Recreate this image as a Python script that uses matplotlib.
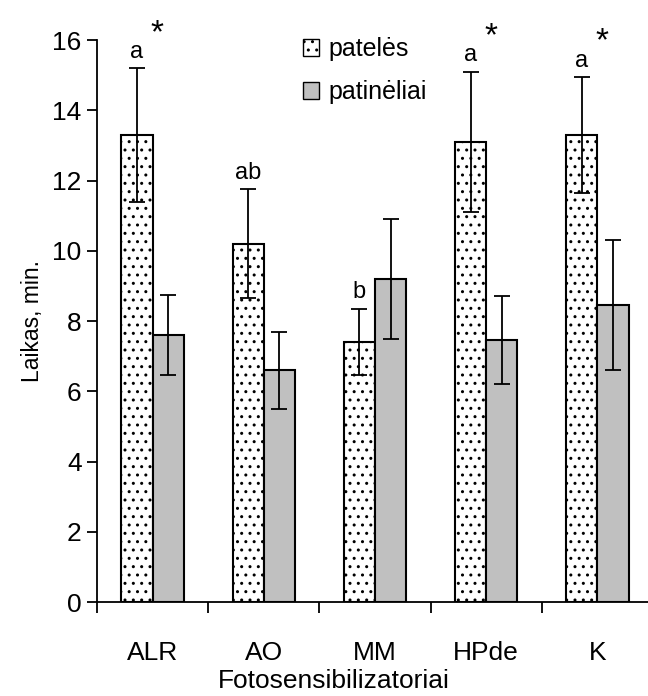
import numpy as np
import matplotlib.pyplot as plt
from matplotlib.patches import Patch

plt.rcParams['font.family'] = ['Liberation Sans', 'DejaVu Sans']
plt.rcParams['hatch.linewidth'] = 1.0

# data
groups = ["ALR", "AO", "MM", "HPde", "K"]
female = [13.3, 10.2, 7.4, 13.1, 13.3]
female_err = [1.9, 1.55, 0.95, 2.0, 1.65]
male = [7.6, 6.6, 9.2, 7.45, 8.45]
male_err = [1.15, 1.1, 1.7, 1.25, 1.85]
letters = ["a", "ab", "b", "a", "a"]
stars = [True, False, False, True, True]

fig = plt.figure(figsize=(6.48, 6.96), dpi=100)
ax = fig.add_axes([0.1497, 0.135, 0.858, 0.8075])

x = np.arange(len(groups)) + 0.5
w = 0.28

ax.bar(x - w / 2, female, w, color="white", edgecolor="black", hatch="..",
       linewidth=1.5, zorder=2)
ax.bar(x + w / 2, male, w, color="#c0c0c0", edgecolor="black",
       linewidth=1.5, zorder=2)
ax.errorbar(x - w / 2, female, yerr=female_err, fmt="none", ecolor="black",
            elinewidth=1.3, capsize=6, capthick=1.3, zorder=3)
ax.errorbar(x + w / 2, male, yerr=male_err, fmt="none", ecolor="black",
            elinewidth=1.3, capsize=6, capthick=1.3, zorder=3)

for i in range(len(groups)):
    top = female[i] + female_err[i]
    ax.text(x[i] - w / 2, top + 0.15, letters[i], ha="center", va="bottom",
            fontsize=17)
    if stars[i]:
        ax.text(x[i] + 0.04, top + 0.55, "*", ha="center", va="bottom",
                fontsize=24, clip_on=False)

ax.set_xlim(0, 5)
ax.set_ylim(0, 16)
ax.set_yticks(np.arange(0, 17, 2))
ax.set_xticks(np.arange(0, 5))
ax.set_xticklabels([])
ax.set_xticks(x, minor=True)
ax.set_xticklabels(groups, minor=True)
ax.tick_params(axis="x", which="major", direction="out", length=8, width=1.3)
ax.tick_params(axis="x", which="minor", length=0, pad=28, labelsize=19)
ax.tick_params(axis="y", direction="out", length=7, width=1.3, labelsize=19, pad=4)

for s in ["top", "right"]:
    ax.spines[s].set_visible(False)
for s in ["left", "bottom"]:
    ax.spines[s].set_linewidth(1.3)

ax.set_ylabel("Laikas, min.", fontsize=16.5, labelpad=6)
fig.text(0.515, 0.005, "Fotosensibilizatoriai", ha="center", va="bottom", fontsize=19)

handles = [Patch(facecolor="white", edgecolor="black", hatch="..", label="patelės"),
           Patch(facecolor="#c0c0c0", edgecolor="black", label="patinėliai")]
ax.legend(handles=handles, loc="upper left", bbox_to_anchor=(0.33, 1.045),
          frameon=False, fontsize=18, handlelength=0.65, handleheight=0.65,
          handletextpad=0.35, labelspacing=0.75)

fig.savefig("out.png", dpi=100)
